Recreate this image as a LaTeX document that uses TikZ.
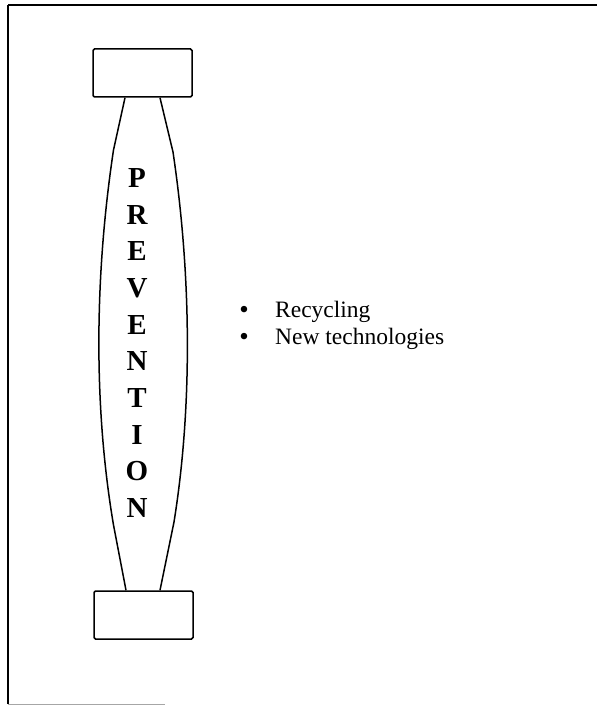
\documentclass[tikz,border=0pt]{standalone}
\usepackage{fontspec}
\setmainfont{Liberation Serif}
\begin{document}
\begin{tikzpicture}[x=1pt,y=-1pt,
  boxst/.style={draw,line width=1.5pt,rounded corners=1.5pt,minimum width=99pt,minimum height=48pt,inner sep=0pt},
  side/.style={line width=1.5pt},
  vert/.style={font=\bfseries\fontsize{29}{36.7}\selectfont,align=center,inner sep=0pt},
  item/.style={font=\fontsize{23.5}{26}\selectfont,inner sep=0pt,anchor=base west},
  bul/.style={font=\fontsize{27}{26}\selectfont,inner sep=0pt,anchor=base}]
\useasboundingbox (0,0) rectangle (597,706);
\fill[white] (0,0) rectangle (597,706);
% frame
\coordinate (ftl) at (8,5);
\coordinate (ftr) at (597,5);
\coordinate (fbl) at (8,704);
\coordinate (fbr) at (165,704);
\draw[line width=2pt] (ftl) -- (ftr);
\draw[line width=1.5pt] (ftl) -- (fbl);
\draw[line width=0.8pt,gray!70] (fbl) -- (fbr);
% boxes
\node[boxst] (top) at (142.5,73) {};
\node[boxst] (bot) at (143.5,615) {};
% sides
\coordinate (l1) at (113.5,150);
\coordinate (l2) at (113.5,525);
\coordinate (r1) at (173,152);
\coordinate (r2) at (174,522);
\draw[side] ([xshift=-17.5pt]top.south) -- (l1) .. controls (94,280) and (94,410) .. (l2) -- ([xshift=-17.5pt]bot.north);
\draw[side] ([xshift=17.5pt]top.south) -- (r1) .. controls (192,280) and (192,410) .. (r2) -- ([xshift=16.5pt]bot.north);
% text
\node[vert] (word) at (137,343) {P\\R\\E\\V\\E\\N\\T\\I\\O\\N};
\node[bul] (b1) at (244,318) {\textbullet};
\node[item] (t1) at (275,317) {Recycling};
\node[bul] (b2) at (244,345) {\textbullet};
\node[item] (t2) at (275,344) {New technologies};
\end{tikzpicture}
\end{document}
